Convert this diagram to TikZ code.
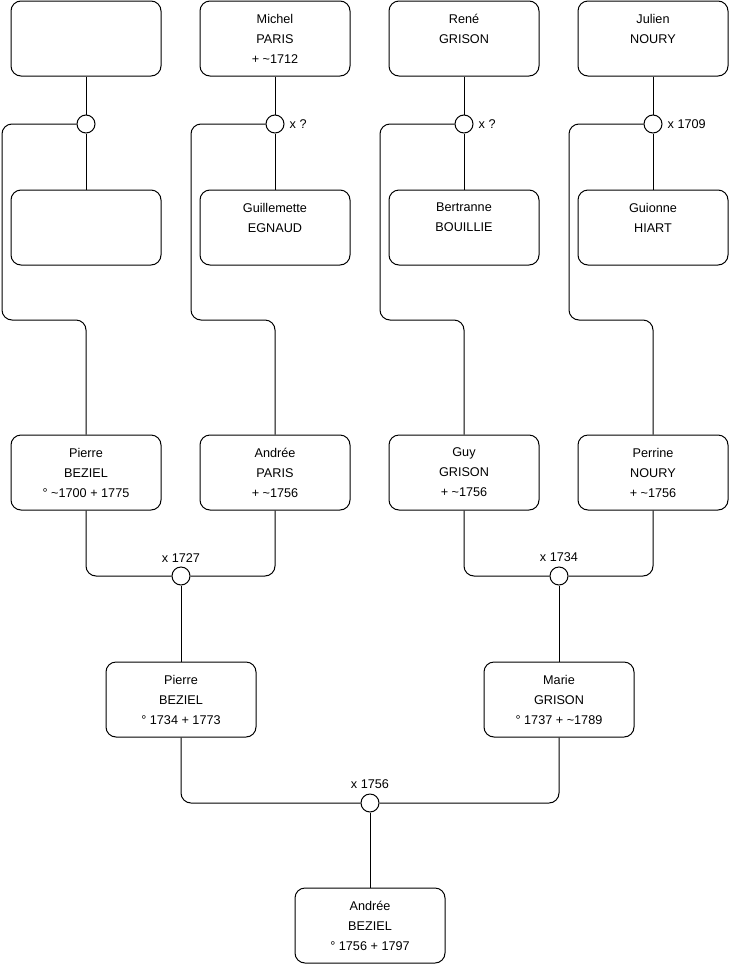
\documentclass[tikz,border=0pt]{standalone}
\usepackage{fontspec}
\setmainfont{Liberation Sans}
\begin{document}
\begin{tikzpicture}[x=0.75pt,y=-0.75pt,line width=0.75pt,
  person/.style={draw,rounded corners=7.5pt,minimum width=112.5pt,minimum height=56.25pt,
    align=center,inner sep=0pt,font=\fontsize{9.5}{15}\selectfont},
  union/.style={draw,circle,fill=white,minimum size=13.5pt,inner sep=0pt},
  wed/.style={font=\fontsize{9.5}{11}\selectfont,inner sep=1.5pt},
  link/.style={rounded corners=7.5pt}]
  \useasboundingbox (0,0) rectangle (740,975);
  % Generation 1
  \node[person] (p1) at (86,38.5) {};
  \node[person] (p2) at (275,38.5) {Michel\\PARIS\\+ \textasciitilde1712};
  \node[person] (p3) at (464,38.5) {René\\GRISON\\\mbox{}};
  \node[person] (p4) at (653,38.5) {Julien\\NOURY\\\mbox{}};
  \node[union] (m1) at (86,124) {};
  \node[union] (m2) at (275,124) {};
  \node[union] (m3) at (464,124) {};
  \node[union] (m4) at (653,124) {};
  \node[wed,anchor=west,xshift=2pt] (x2) at (m2.east) {x ?};
  \node[wed,anchor=west,xshift=2pt] (x3) at (m3.east) {x ?};
  \node[wed,anchor=west,xshift=2pt] (x4) at (m4.east) {x 1709};
  \node[person] (w1) at (86,227.5) {};
  \node[person] (w2) at (275,227.5) {Guillemette\\EGNAUD\\\mbox{}};
  \node[person] (w3) at (464,227.5) {Bertranne\\BOUILLIE\\\mbox{}};
  \node[person] (w4) at (653,227.5) {Guionne\\HIART\\\mbox{}};
  \draw (p1) -- (m1) -- (w1);
  \draw (p2) -- (m2) -- (w2);
  \draw (p3) -- (m3) -- (w3);
  \draw (p4) -- (m4) -- (w4);
  % Generation 2
  \node[person] (c1) at (86,472.5) {Pierre\\BEZIEL\\° \textasciitilde1700 + 1775};
  \node[person] (c2) at (275,472.5) {Andrée\\PARIS\\+ \textasciitilde1756};
  \node[person] (c3) at (464,472.5) {Guy\\GRISON\\+ \textasciitilde1756};
  \node[person] (c4) at (653,472.5) {Perrine\\NOURY\\+ \textasciitilde1756};
  \draw[link] (m1.west) -| (2,320) -| (c1.north);
  \draw[link] (m2.west) -| (191,320) -| (c2.north);
  \draw[link] (m3.west) -| (380,320) -| (c3.north);
  \draw[link] (m4.west) -| (569,320) -| (c4.north);
  \node[union] (m5) at (181,576) {};
  \node[union] (m6) at (559,576) {};
  \node[wed,anchor=south,yshift=1.5pt] (x5) at (m5.north) {x 1727};
  \node[wed,anchor=south,yshift=1.5pt] (x6) at (m6.north) {x 1734};
  \draw[link] (c1.south) |- (m5.west);
  \draw[link] (c2.south) |- (m5.east);
  \draw[link] (c3.south) |- (m6.west);
  \draw[link] (c4.south) |- (m6.east);
  % Generation 3
  \node[person] (g1) at (181,699.5) {Pierre\\BEZIEL\\° 1734 + 1773};
  \node[person] (g2) at (559,699.5) {Marie\\GRISON\\° 1737 + \textasciitilde1789};
  \draw (m5) -- (g1);
  \draw (m6) -- (g2);
  \node[union] (m7) at (370,803) {};
  \node[wed,anchor=south,yshift=1.5pt] (x7) at (m7.north) {x 1756};
  \draw[link] (g1.south) |- (m7.west);
  \draw[link] (g2.south) |- (m7.east);
  % Generation 4
  \node[person] (d1) at (370,925.5) {Andrée\\BEZIEL\\° 1756 + 1797};
  \draw (m7) -- (d1);
\end{tikzpicture}
\end{document}
